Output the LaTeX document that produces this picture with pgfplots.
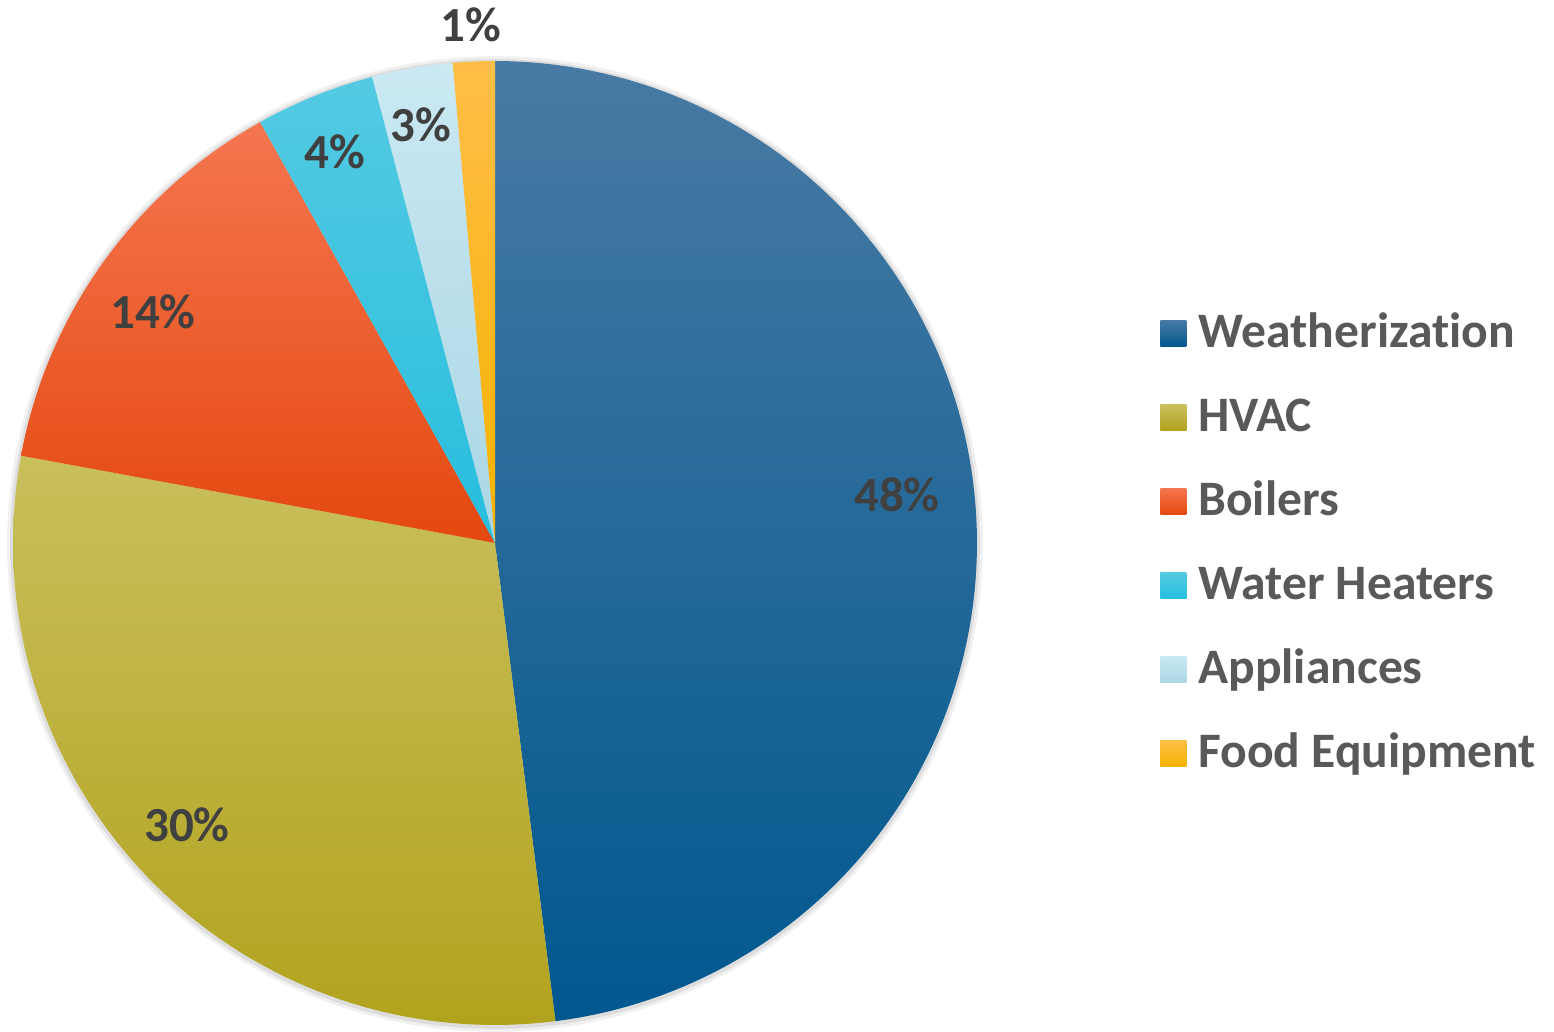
\documentclass[border=0pt]{standalone}
\usepackage{pgfplots}
\pgfplotsset{compat=1.18}
\usepackage{fontspec}
\setmainfont{Carlito}[Ligatures=NoCommon]

\definecolor{wtop}{RGB}{72,122,163}
\definecolor{wbot}{RGB}{0,88,143}
\definecolor{htop}{RGB}{201,191,92}
\definecolor{hbot}{RGB}{178,163,30}
\definecolor{btop}{RGB}{245,118,80}
\definecolor{bbot}{RGB}{228,72,15}
\definecolor{whtop}{RGB}{84,202,226}
\definecolor{whbot}{RGB}{38,190,222}
\definecolor{atop}{RGB}{202,233,243}
\definecolor{abot}{RGB}{170,214,228}
\definecolor{ftop}{RGB}{255,190,72}
\definecolor{fbot}{RGB}{245,178,0}
\definecolor{lab}{RGB}{64,64,64}
\definecolor{legtext}{RGB}{89,89,89}

% one slice: from #1 to #2 (cumulative percent, clockwise from 12 o'clock)
\newcommand{\slice}[5]{%
  \addplot[draw=none, top color=#3, bottom color=#4, domain=#1:#2, samples=#5, variable=\t]
    ({495+482*cos(90-3.6*\t)},{484+482*sin(90-3.6*\t)}) -- (axis cs:495,484) -- cycle;
}

\begin{document}
\begin{tikzpicture}
\begin{axis}[
  x=0.5pt, y=0.5pt,
  xmin=0, xmax=1554, ymin=0, ymax=1027,
  hide axis, clip=false,
  legend image code/.code={\path[#1] (0pt,0.5pt) rectangle (13pt,13.5pt);},
  legend style={at={(axis cs:1160,714)}, anchor=north west, draw=none, fill=none,
    inner sep=0pt, row sep=20pt, column sep=6pt,
    cells={anchor=base west},
    nodes={inner sep=0pt, text height=17pt, text depth=5pt},
    font=\fontsize{24.8}{29}\selectfont\bfseries, text=legtext},
]
% frame of the picture (invisible)
\addplot[draw=none, forget plot] coordinates {(0,0) (1554,1027)};
% soft shadow
\addplot[draw=none, fill=black, fill opacity=0.06, domain=0:360, samples=120, forget plot]
  ({495+488*cos(\x)},{483+488*sin(\x)}) -- cycle;
\addplot[draw=none, fill=black, fill opacity=0.08, domain=0:360, samples=120, forget plot]
  ({495+485*cos(\x)},{483+485*sin(\x)}) -- cycle;

% shares: 48.0, 29.9, 14.0, 4.0, 2.7, 1.4
\slice{0}{48.0}{wtop}{wbot}{120}
\addlegendentry{Weatherization}
\slice{48.0}{77.9}{htop}{hbot}{80}
\addlegendentry{HVAC}
\slice{77.9}{91.9}{btop}{bbot}{40}
\addlegendentry{Boilers}
\slice{91.9}{95.9}{whtop}{whbot}{15}
\addlegendentry{Water Heaters}
\slice{95.9}{98.6}{atop}{abot}{12}
\addlegendentry{Appliances}
\slice{98.6}{100}{ftop}{fbot}{8}
\addlegendentry{Food Equipment}

% percentage labels
\addplot[only marks, mark=*, mark size=0pt, mark options={draw=none, fill=none},
  nodes near coords, point meta=explicit symbolic,
  nodes near coords style={anchor=center, inner sep=0pt, text=lab,
    font=\fontsize{24.5}{29}\selectfont\bfseries},
  forget plot]
  coordinates {
    (897,532) [48\%]
    (187,202) [30\%]
    (153,715) [14\%]
    (335,875) [4\%]
    (421,902) [3\%]
    (471,1002) [1\%]
  };
\end{axis}
\end{tikzpicture}
\end{document}
